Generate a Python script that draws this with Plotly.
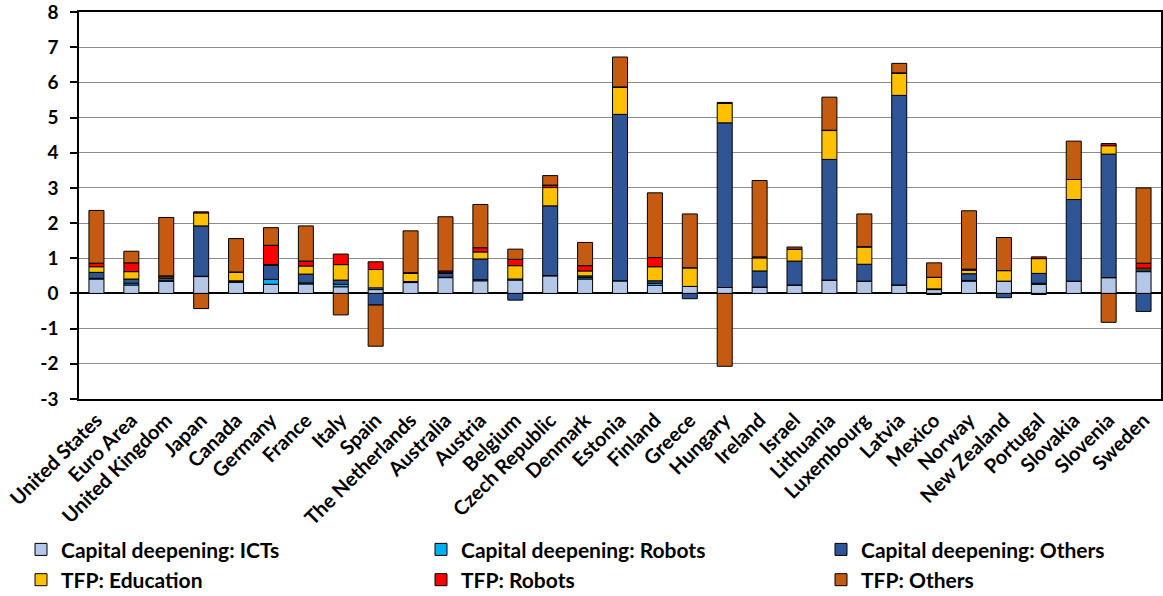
import plotly.graph_objects as go

countries = ["United States", "Euro Area", "United Kingdom", "Japan", "Canada", "Germany", "France",
             "Italy", "Spain", "The Netherlands", "Australia", "Austria", "Belgium", "Czech Republic",
             "Denmark", "Estonia", "Finland", "Greece", "Hungary", "Ireland", "Israel", "Lithuania",
             "Luxembourg", "Latvia", "Mexico", "Norway", "New Zealand", "Portugal", "Slovakia",
             "Slovenia", "Sweden"]

cd_ict = [0.41, 0.24, 0.35, 0.48, 0.32, 0.26, 0.27, 0.19, 0.11, 0.31, 0.45, 0.36, 0.38, 0.50,
          0.41, 0.36, 0.23, 0.20, 0.17, 0.18, 0.24, 0.38, 0.35, 0.24, 0.11, 0.35, 0.35, 0.26,
          0.35, 0.45, 0.62]
cd_robots = [0.02, 0.05, 0.01, 0.01, 0.01, 0.14, 0.03, 0.07, 0.05, 0.01, 0.01, 0.03, 0.03, 0.01,
             0.04, 0.00, 0.06, 0.00, 0.00, 0.00, 0.00, 0.00, 0.00, 0.00, 0.02, 0.02, 0.00, 0.03,
             0.00, 0.00, 0.05]
cd_others = [0.17, 0.12, 0.07, 1.43, 0.03, 0.40, 0.25, 0.12, -0.33, 0.02, 0.11, 0.59, -0.19, 1.98,
             0.05, 4.73, 0.07, -0.15, 4.68, 0.46, 0.68, 3.43, 0.48, 5.39, -0.03, 0.19, -0.12, 0.28,
             2.32, 3.51, -0.51]
tfp_education = [0.16, 0.21, 0.04, 0.37, 0.25, 0.02, 0.23, 0.44, 0.52, 0.23, 0.02, 0.20, 0.38, 0.52,
                 0.14, 0.77, 0.40, 0.53, 0.55, 0.37, 0.33, 0.82, 0.49, 0.63, 0.33, 0.10, 0.30, 0.42,
                 0.57, 0.24, 0.05]
tfp_robots = [0.10, 0.25, 0.03, 0.03, 0.00, 0.55, 0.14, 0.30, 0.22, 0.02, 0.05, 0.12, 0.18, 0.07,
              0.15, 0.01, 0.26, 0.00, 0.03, 0.03, 0.01, 0.01, 0.01, 0.01, 0.00, 0.03, 0.00, 0.05,
              0.00, 0.06, 0.14]
tfp_others = [1.50, 0.33, 1.66, -0.43, 0.95, 0.50, 1.00, -0.61, -1.17, 1.19, 1.54, 1.23, 0.29, 0.27,
              0.66, 0.85, 1.84, 1.53, -2.07, 2.17, 0.06, 0.94, 0.93, 0.27, 0.41, 1.66, 0.94, -0.03,
              1.09, -0.82, 2.14]

y_tick_values = [-3, -2, -1, 0, 1, 2, 3, 4, 5, 6, 7, 8]
y_tick_labels = ["-3", "-2", "-1", "0", "1", "2", "3", "4", "5", "6", "7", "8"]

# (name, values, colour, legend column)
series = [
    ("Capital deepening: ICTs", cd_ict, "#B4C7E7", "legend"),
    ("Capital deepening: Robots", cd_robots, "#00B0F0", "legend2"),
    ("Capital deepening: Others", cd_others, "#2F5597", "legend3"),
    ("TFP: Education", tfp_education, "#FFC000", "legend"),
    ("TFP: Robots", tfp_robots, "#FF0000", "legend2"),
    ("TFP: Others", tfp_others, "#C55A11", "legend3"),
]

FONT = "Lato"

fig = go.Figure()
for name, vals, color, leg in series:
    fig.add_trace(go.Bar(
        x=countries, y=vals, name=name, legend=leg,
        marker=dict(color=color, line=dict(color="#000000", width=1)),
    ))

legend_font = dict(family=FONT, size=21, color="#000000", weight="bold")


def legend_box(xpx):
    return dict(
        orientation="v",
        xref="container", x=xpx / 1163, xanchor="left",
        yref="container", y=0.112, yanchor="top",
        font=legend_font,
        traceorder="normal",
        itemwidth=30,
        tracegroupgap=0,
        bgcolor="rgba(0,0,0,0)",
    )


fig.update_layout(
    width=1163, height=596,
    barmode="relative",
    bargap=0.57,
    plot_bgcolor="white",
    paper_bgcolor="white",
    margin=dict(l=79, r=2, t=12, b=197, autoexpand=False),
    font=dict(family=FONT, size=17, color="#000000"),
    legend=legend_box(21),
    legend2=legend_box(421),
    legend3=legend_box(821),
    showlegend=True,
)

fig.update_xaxes(
    tickangle=-45,
    tickfont=dict(family=FONT, size=20, color="#000000", weight="bold"),
    showline=True, linecolor="#000000", linewidth=1.5, mirror=True,
    showgrid=False, ticks="", automargin=False,
)

fig.update_yaxes(
    range=[-3, 8],
    tickmode="array", tickvals=y_tick_values, ticktext=y_tick_labels,
    tickfont=dict(family=FONT, size=19, color="#000000", weight="bold"),
    showline=True, linecolor="#000000", linewidth=1.5, mirror=True,
    showgrid=True, gridcolor="#8C8C8C", gridwidth=1,
    zeroline=True, zerolinecolor="#000000", zerolinewidth=1.5,
    ticks="outside", ticklen=7, tickcolor="#000000", tickwidth=1.5,
    ticklabelstandoff=8, ticklabeloverflow="allow",
    automargin=False,
)

fig.write_html(
    "out.html",
    config={"displayModeBar": False},
    post_script="document.body.style.margin='0';document.body.style.overflow='hidden';",
)
